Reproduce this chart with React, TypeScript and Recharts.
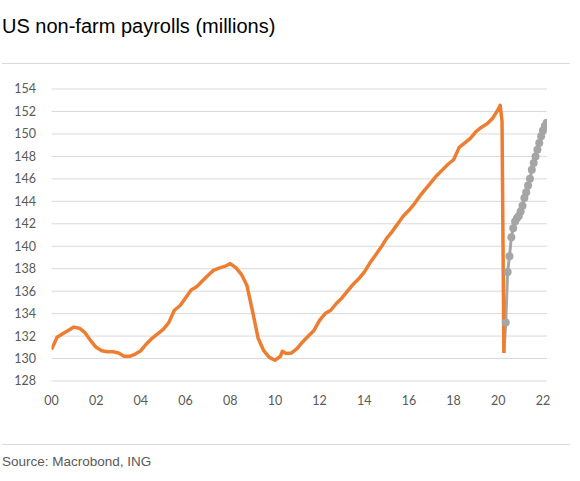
import React from 'react';
import { LineChart, Line, XAxis, YAxis, CartesianGrid } from 'recharts';

// years since 2000 (quarterly, then monthly around the covid drop)
const payrollDates = [
  0, 0.25, 0.5, 0.75, 1, 1.25, 1.5, 1.75, 2, 2.25, 2.5, 2.75, 3, 3.25, 3.5, 3.75,
  4, 4.25, 4.5, 4.75, 5, 5.25, 5.5, 5.75, 6, 6.25, 6.5, 6.75, 7, 7.25, 7.5, 7.75,
  8, 8.25, 8.5, 8.75, 9, 9.25, 9.5, 9.75, 10, 10.25, 10.33, 10.5, 10.75, 11, 11.25, 11.5, 11.75,
  12, 12.25, 12.5, 12.75, 13, 13.25, 13.5, 13.75, 14, 14.25, 14.5, 14.75, 15, 15.25, 15.5, 15.75,
  16, 16.25, 16.5, 16.75, 17, 17.25, 17.5, 17.75, 18, 18.25, 18.5, 18.75, 19, 19.25, 19.5, 19.75,
  20, 20.083, 20.167, 20.25,
];
const payrollValues = [
  130.8, 131.9, 132.2, 132.5, 132.8, 132.7, 132.3, 131.6, 131.0, 130.7, 130.6, 130.6, 130.5, 130.2, 130.2, 130.4,
  130.7, 131.3, 131.8, 132.2, 132.6, 133.2, 134.3, 134.7, 135.4, 136.1, 136.4, 136.9, 137.4, 137.85, 138.05, 138.2,
  138.45, 138.1, 137.5, 136.5, 134.2, 131.8, 130.7, 130.1, 129.85, 130.2, 130.65, 130.45, 130.5, 130.9, 131.5, 132.0, 132.5,
  133.4, 134.0, 134.3, 134.9, 135.4, 136.0, 136.6, 137.1, 137.7, 138.5, 139.2, 139.9, 140.7, 141.3, 142.0, 142.7,
  143.2, 143.8, 144.5, 145.1, 145.7, 146.3, 146.8, 147.3, 147.7, 148.8, 149.2, 149.6, 150.2, 150.6, 150.9, 151.4,
  152.2, 152.55, 151.1, 130.5,
];

// monthly recovery, Apr 2020 to Mar 2022
const recoveryDates = [
  20.25, 20.333, 20.417, 20.5, 20.583, 20.667, 20.75, 20.833, 20.917,
  21, 21.083, 21.167, 21.25, 21.333, 21.417, 21.5, 21.583, 21.667, 21.75, 21.833, 21.917,
  22, 22.083, 22.167,
];
const recoveryValues = [
  130.5, 133.2, 137.7, 139.1, 140.8, 141.6, 142.2, 142.5, 142.7,
  143.1, 143.6, 144.3, 144.8, 145.4, 146.0, 146.8, 147.4, 148.0, 148.6, 149.2, 149.8,
  150.3, 150.7, 151.0,
];

const yearTicks = [0, 2, 4, 6, 8, 10, 12, 14, 16, 18, 20, 22];
const valueTicks = [128, 130, 132, 134, 136, 138, 140, 142, 144, 146, 148, 150, 152, 154];

const payrollData = payrollDates.map((t, i) => ({ t, v: payrollValues[i] }));
const recoveryData = recoveryDates.map((t, i) => ({ t, v: recoveryValues[i] }));

const tickStyle = { fontSize: 12.5, fill: '#595959', fontFamily: 'Lato, sans-serif' };

const GrayDot = (props: any) => {
  const { cx, cy, index } = props;
  if (index === 0) return <g key={`d${index}`} />;
  return <circle key={`d${index}`} cx={cx} cy={cy} r={4} fill="#a5a5a5" />;
};

export default function App() {
  return (
    <div style={{ position: 'absolute', top: 0, left: 0, width: 580, height: 481, background: '#fff' }}>
      <div
        style={{
          position: 'absolute',
          left: 2,
          top: 16,
          fontSize: 20,
          lineHeight: '20px',
          fontFamily: '"Liberation Sans", Arial, sans-serif',
          color: '#000',
          whiteSpace: 'nowrap',
        }}
      >
        US non-farm payrolls (millions)
      </div>
      <div style={{ position: 'absolute', left: 2, top: 63, width: 568, height: 1, background: '#d9d9d9' }} />

      <div style={{ position: 'absolute', left: 0, top: 0 }}>
        <LineChart width={580} height={481} margin={{ top: 89, right: 33, bottom: 60, left: 0 }}>
          <CartesianGrid vertical={false} stroke="#d9d9d9" strokeWidth={1} />
          <XAxis
            type="number"
            dataKey="t"
            domain={[0, 22.18]}
            ticks={yearTicks}
            tickFormatter={(v: number) => String(v).padStart(2, '0')}
            axisLine={false}
            tickLine={false}
            tickSize={0}
            tickMargin={15.5}
            height={40}
            tick={tickStyle}
            allowDataOverflow
          />
          <YAxis
            type="number"
            domain={[128, 154]}
            ticks={valueTicks}
            axisLine={false}
            tickLine={false}
            tickSize={0}
            tickMargin={15.5}
            width={51.5}
            tick={tickStyle}
            interval={0}
          />
          <Line
            data={recoveryData}
            dataKey="v"
            type="linear"
            stroke="#a5a5a5"
            strokeWidth={3}
            dot={GrayDot}
            activeDot={false}
            isAnimationActive={false}
          />
          <Line
            data={payrollData}
            dataKey="v"
            type="linear"
            stroke="#ed7d31"
            strokeWidth={3.5}
            strokeLinejoin="round"
            dot={false}
            activeDot={false}
            isAnimationActive={false}
          />
        </LineChart>
      </div>

      <div style={{ position: 'absolute', left: 2, top: 444, width: 568, height: 1, background: '#d9d9d9' }} />
      <div
        style={{
          position: 'absolute',
          left: 2,
          top: 454.6,
          fontSize: 13.5,
          lineHeight: '13.5px',
          fontFamily: '"Liberation Sans", Arial, sans-serif',
          color: '#595959',
          whiteSpace: 'nowrap',
        }}
      >
        Source: Macrobond, ING
      </div>
    </div>
  );
}
